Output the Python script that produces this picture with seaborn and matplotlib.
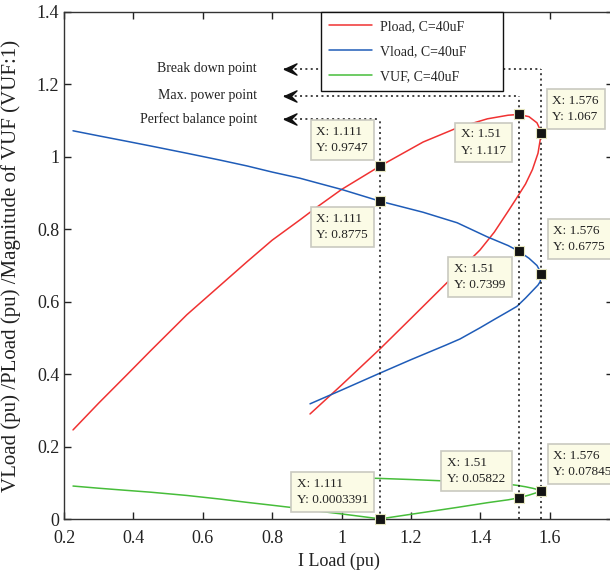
import numpy as np
import pandas as pd
import matplotlib
matplotlib.use("Agg")
import matplotlib.pyplot as plt
import seaborn as sns
from matplotlib.path import Path
from matplotlib.ticker import FuncFormatter

# ---------------- data ----------------
I_stable = [0.226, 0.3, 0.381, 0.45, 0.554, 0.65, 0.727, 0.8, 0.88, 0.93, 1.0,
            1.111, 1.235, 1.333, 1.42, 1.48, 1.51, 1.54, 1.563, 1.576]
P_stable = [0.246, 0.32, 0.398, 0.465, 0.564, 0.645, 0.71, 0.77, 0.826, 0.862, 0.91,
            0.9747, 1.041, 1.08, 1.105, 1.115, 1.117, 1.111, 1.094, 1.067]
V_stable = [1.072, 1.058, 1.043, 1.03, 1.01, 0.991, 0.975, 0.958, 0.941, 0.928, 0.91,
            0.8775, 0.847, 0.818, 0.779, 0.755, 0.7399, 0.72, 0.70, 0.6775]
VUF_stable = [0.091, 0.085, 0.079, 0.074, 0.065, 0.055, 0.046, 0.038, 0.029, 0.022, 0.014,
              0.0003391, 0.018, 0.032, 0.045, 0.053, 0.05822, 0.066, 0.073, 0.07845]

I_unstable = [1.576, 1.572, 1.566, 1.55, 1.53, 1.505, 1.48, 1.44, 1.399, 1.341, 1.3,
              1.2, 1.111, 1.0, 0.909]
P_unstable = [1.067, 1.045, 1.01, 0.965, 0.925, 0.887, 0.85, 0.792, 0.743, 0.688, 0.649,
              0.554, 0.47, 0.37, 0.29]
V_unstable = [0.6775, 0.655, 0.646, 0.63, 0.61, 0.587, 0.573, 0.551, 0.528, 0.497, 0.48,
              0.44, 0.403, 0.356, 0.318]
VUF_unstable = [0.07845, 0.0795, 0.081, 0.085, 0.089, 0.093, 0.096, 0.099, 0.101, 0.103,
                0.105, 0.109, 0.112, 0.115, 0.117]

series_names = ["Pload, C=40uF", "Vload, C=40uF", "VUF, C=40uF"]
series_colors = ["#f03232", "#1f5cb8", "#47bd3a"]

tip_x = [1.111, 1.111, 1.51, 1.576, 1.51, 1.576, 1.111, 1.51, 1.576]
tip_y = [0.9747, 0.8775, 1.117, 1.067, 0.7399, 0.6775, 0.0003391, 0.05822, 0.07845]

guide_x = [1.111, 1.51, 1.576]
guide_level = [1.105, 1.169, 1.243]
guide_labels = ["Perfect balance point", "Max. power point", "Break down point"]
arrow_tip_x = 0.834
label_right_x = 0.756

x_ticks = [0.2, 0.4, 0.6, 0.8, 1.0, 1.2, 1.4, 1.6]
y_ticks = [0, 0.2, 0.4, 0.6, 0.8, 1.0, 1.2, 1.4]

# ---------------- style ----------------
sns.set_style("ticks")
plt.rcParams["font.family"] = ["Liberation Serif", "DejaVu Serif"]

fig = plt.figure(figsize=(6.1, 5.75), dpi=100)
ax = fig.add_axes([64 / 610, 56 / 575, 549 / 610, 507 / 575])

rows = []
for name, st, un in zip(series_names, [P_stable, V_stable, VUF_stable],
                        [P_unstable, V_unstable, VUF_unstable]):
    xs = I_stable + I_unstable[1:]
    ys = st + un[1:]
    for k, (a, b) in enumerate(zip(xs, ys)):
        rows.append({"I": a, "value": b, "series": name, "order": k})
df = pd.DataFrame(rows)

sns.lineplot(data=df, x="I", y="value", hue="series", hue_order=series_names,
             palette=dict(zip(series_names, series_colors)), sort=False,
             estimator=None, linewidth=1.1, ax=ax)

ax.set_xlim(0.2, 0.2 + 549 / 347)
ax.set_ylim(0, 1.4)
ax.set_xticks(x_ticks)
ax.set_yticks(y_ticks)
fmt = FuncFormatter(lambda v, p: f"{v:g}")
ax.xaxis.set_major_formatter(fmt)
ax.yaxis.set_major_formatter(fmt)
ax.tick_params(direction="in", length=5, width=1, top=True, right=True,
               labelsize=13, colors="#222222", labelcolor="#222222")
ax.tick_params(axis="x", pad=7.8)
for s in ax.spines.values():
    s.set_linewidth(1.0)
    s.set_color("#333333")
    s.set_visible(True)

ax.set_xlabel("I Load (pu)", fontsize=13, labelpad=4, color="#222222")
ax.set_ylabel("VLoad (pu) /PLoad (pu) /Magnitude of VUF (VUF:1)", fontsize=15,
              labelpad=2, color="#222222")
ax.yaxis.set_label_coords(-0.079, 0.5)

# legend
handles, labels = ax.get_legend_handles_labels()
leg = ax.legend(handles, labels, loc="upper left",
                bbox_to_anchor=(0.468, 0.0, 0.332, 1.0), mode="expand",
                fontsize=10, frameon=True, fancybox=False, framealpha=1,
                edgecolor="#111111", borderpad=0.6, labelspacing=0.85,
                handlelength=3.1, handletextpad=0.55, borderaxespad=0.0)
leg.get_frame().set_linewidth(1.0)
leg.set_zorder(6)

# guide lines and arrows
dot = (0, (1.3, 2.2))
arrow_path = Path([(0, 0), (1, 0.45), (0.55, 0), (1, -0.45), (0, 0)],
                  [Path.MOVETO, Path.LINETO, Path.LINETO, Path.LINETO, Path.CLOSEPOLY])
for gx, lvl, lab in zip(guide_x, guide_level, guide_labels):
    ax.plot([gx, gx], [0, lvl], color="#111111", lw=1.1, ls=dot, zorder=3)
    ax.plot([arrow_tip_x, gx], [lvl, lvl], color="#111111", lw=1.1, ls=dot, zorder=3)
    ax.plot([arrow_tip_x], [lvl], marker=arrow_path, ms=18, color="#111111",
            mec="#111111", zorder=4)
    ax.text(label_right_x, lvl, lab, ha="right", va="center", fontsize=10,
            color="#222222")

# data tips
tip_offsets = [(-12, 12), (-12, -12), (-13, -14), (11, 10), (-13, -12),
               (12, 21), (-12, 13), (-13, 13), (12, 13)]
tip_align = [("right", "bottom"), ("right", "top"), ("right", "top"), ("left", "bottom"),
             ("right", "top"), ("left", "bottom"), ("right", "bottom"),
             ("right", "bottom"), ("left", "bottom")]
for x, y, (dx, dy), (ha, va) in zip(tip_x, tip_y, tip_offsets, tip_align):
    ax.annotate(f"X: {x:.4g}\nY: {y:.4g}", xy=(x, y), xytext=(dx, dy),
                textcoords="offset pixels", ha=ha, va=va, multialignment="left",
                fontsize=9.5, color="#222222", linespacing=1.45, zorder=7,
                bbox=dict(boxstyle="square,pad=0.45", fc="#fbfbe6", ec="#c9c9c0", lw=1.2))
ax.plot(tip_x, tip_y, ls="none", marker="s", ms=7.5, color="#141414",
        mec="#e6e6c0", mew=0.8, zorder=8, clip_on=False)

fig.savefig("out.png", dpi=100)
